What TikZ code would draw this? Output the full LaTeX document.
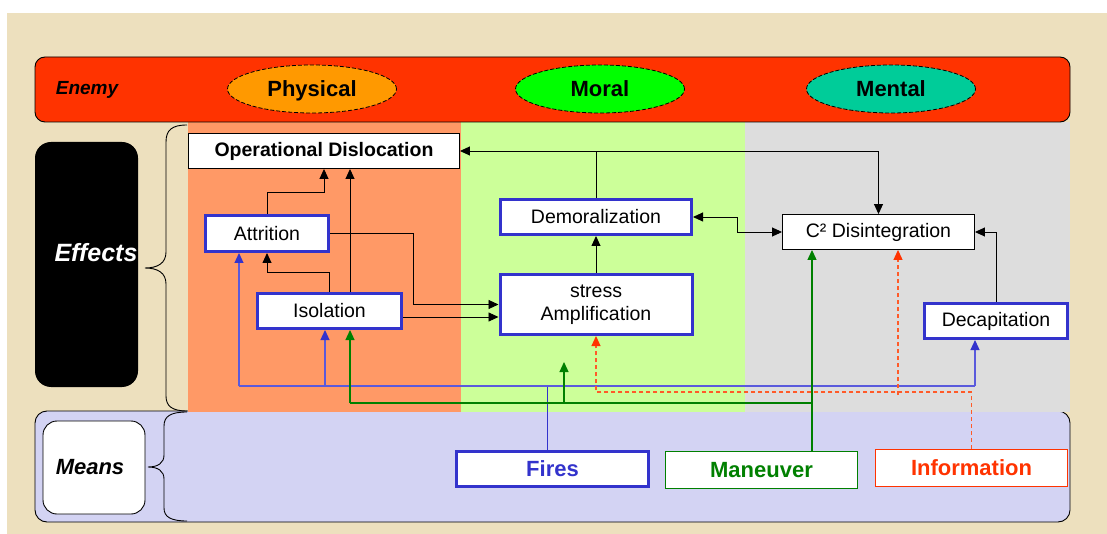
\documentclass[tikz,border=0pt]{standalone}
\usepackage{fontspec}
\setmainfont{Liberation Sans}
\usetikzlibrary{arrows.meta,shapes.geometric,calc}

\definecolor{parch}{RGB}{237,224,190}
\definecolor{enemyred}{RGB}{255,51,0}
\definecolor{physc}{RGB}{255,153,0}
\definecolor{moralc}{RGB}{0,255,0}
\definecolor{mentalc}{RGB}{0,204,153}
\definecolor{physpanel}{RGB}{255,153,102}
\definecolor{moralpanel}{RGB}{204,255,153}
\definecolor{mentalpanel}{RGB}{221,221,221}
\definecolor{meanspanel}{RGB}{211,211,243}
\definecolor{boxblue}{RGB}{51,51,204}
\definecolor{lineblue}{RGB}{90,90,220}
\definecolor{mgreen}{RGB}{0,128,0}
\definecolor{ired}{RGB}{255,51,0}
\definecolor{idash}{RGB}{255,90,40}

\begin{document}
\begin{tikzpicture}[x=1pt,y=-1pt,
  font=\fontsize{19.5}{23}\selectfont,
  tipblack/.style={-{Triangle[length=10pt,width=9pt]}},
  conn/.style={tipblack,line width=0.9pt,black},
  effect/.style={draw=boxblue,line width=3pt,fill=white,inner sep=0pt,align=center},
  plainbox/.style={draw=black,line width=0.9pt,fill=white,inner sep=0pt},
  aspect/.style={ellipse,draw=black,dash pattern=on 4pt off 2pt,line width=0.8pt,
    minimum width=169pt,minimum height=48pt,inner sep=0pt,text height=15pt,text depth=0pt,
    font=\fontsize{22}{24}\selectfont\bfseries},
  meansbox/.style={fill=white,inner sep=0pt,minimum width=192pt,minimum height=37pt,
    font=\fontsize{22}{24}\selectfont\bfseries},
  blueline/.style={draw=lineblue,line width=1.2pt},
  bluearr/.style={blueline,-{Triangle[length=10pt,width=9pt,color=boxblue]}},
  greenline/.style={draw=mgreen,line width=1.2pt},
  greenarr/.style={greenline,-{Triangle[length=10pt,width=9pt,color=mgreen]}},
  reddash/.style={draw=idash,line width=1.1pt,dash pattern=on 4pt off 3pt,
    -{Triangle[length=10pt,width=9pt,color=ired]}},
  bracepath/.style={draw=black,line width=0.9pt}
]
\useasboundingbox (0,0) rectangle (1107,534);

% page and parchment
\fill[white] (0,0) rectangle (1107,534);
\fill[parch] (7,13) rectangle (1107,534);

% means band
\draw[fill=meanspanel,line width=0.9pt,rounded corners=12pt] (35,411) rectangle (1070,522);

% effect panels
\fill[physpanel] (188,122) rectangle (461,412);
\fill[moralpanel] (461,122) rectangle (745,412);
\fill[mentalpanel] (745,122) rectangle (1070,412);

% enemy band
\draw[fill=enemyred,line width=0.9pt,rounded corners=10pt] (35,57) rectangle (1070,122);
\node[font=\fontsize{19}{22}\selectfont\bfseries\itshape] (enemy) at (87,90) {Enemy};
\node[aspect,fill=physc] (phys) at (312,89) {Physical};
\node[aspect,fill=moralc] (moral) at (600,89) {Moral};
\node[aspect,fill=mentalc] (mental) at (891,89) {Mental};

% left labels
\node[fill=black,rounded corners=16pt,minimum width=103pt,minimum height=245pt,inner sep=0pt]
  (effects) at (86.5,264.5) {};
\node[text=white,font=\fontsize{25}{28}\selectfont\bfseries\itshape] (effectslbl) at (96,253) {Effects};
\node[draw=black,line width=0.9pt,fill=white,rounded corners=14pt,minimum width=102pt,
  minimum height=93pt,inner sep=0pt] (means) at (94,467.5) {};
\node[font=\fontsize{22}{25}\selectfont\bfseries\itshape] (meanslbl) at (90,467) {Means};

% braces
\draw[bracepath] (187,125) .. controls (172,125) and (166,130) .. (166,142) -- (166,252)
  .. controls (166,263) and (158,268) .. (145,268)
  .. controls (158,268) and (166,273) .. (166,284) -- (166,396)
  .. controls (166,406) and (172,411) .. (187,411);
\draw[bracepath] (187,412) .. controls (171,412) and (164,416) .. (164,426) -- (164,455)
  .. controls (164,463) and (158,467) .. (148,467)
  .. controls (158,467) and (164,471) .. (164,479) -- (164,508)
  .. controls (164,517) and (171,521) .. (187,521);

% effect nodes
\node[plainbox,minimum width=271pt,minimum height=35pt,font=\fontsize{19.5}{23}\selectfont\bfseries]
  (opdis) at (324,151) {Operational Dislocation};
\node[effect,minimum width=123pt,minimum height=36pt] (attr) at (267,233.5) {Attrition};
\node[effect,minimum width=144pt,minimum height=35pt] (iso) at (329.5,311) {Isolation};
\node[effect,minimum width=191pt,minimum height=35pt] (demor) at (596,217) {Demoralization};
\node[effect,minimum width=192pt,minimum height=60pt] (stress) at (596,304.5) {stress\\Amplification};
\node[plainbox,minimum width=192pt,minimum height=35pt] (c2) at (878.5,232) {C² Disintegration};
\node[effect,minimum width=143pt,minimum height=35pt] (decap) at (996,321) {Decapitation};

% means nodes
\node[meansbox,draw=boxblue,line width=3pt,text=boxblue,minimum width=192pt,minimum height=35pt]
  (fires) at (552.5,469) {Fires};
\node[meansbox,draw=mgreen,line width=1pt,text=mgreen] (maneuver) at (761.5,470) {Maneuver};
\node[meansbox,draw=ired,line width=1.2pt,text=ired] (info) at (971.5,468) {Information};

% effect-to-effect links
\coordinate (a1) at (267,192);
\draw[conn] (attr.north) -- (a1) -| (opdis.south);
\coordinate (i2) at ([xshift=20.5pt]iso.north);
\draw[conn] (i2) -- (i2 |- opdis.south);
\coordinate (a2) at (329.5,272);
\draw[conn] (iso.north) -- (a2) -| (attr.south);
\coordinate (a3) at (413,233.5);
\draw[conn] (attr.east) -- (a3) |- (stress.west);
\coordinate (i3) at ([yshift=-6pt]iso.east);
\draw[conn] (i3) -- (i3 -| stress.west);
\draw[conn] (stress.north) -- (demor.south);
\coordinate (d1) at (596,151);
\draw[conn] (demor.north) -- (d1) -- (opdis.east);
\draw[conn] (d1) -| (c2.north);
\coordinate (d2) at (737,217);
\draw[line width=0.9pt,{Triangle[length=10pt,width=9pt]}-{Triangle[length=10pt,width=9pt]}]
  (demor.east) -- (d2) |- (c2.west);
\draw[conn] (decap.north) |- (c2.east);

% fires links
\coordinate (fb) at ([xshift=-5pt]fires.north);
\coordinate (bj) at (547.5,386);
\coordinate (bl) at (239,386);
\coordinate (bm) at (325,386);
\coordinate (br) at (975,386);
\draw[draw=boxblue,line width=1pt] (fb) -- (bj);
\draw[blueline] (bl) -- (br);
\draw[bluearr] (bl) -- (bl |- attr.south);
\draw[bluearr] (bm) -- (bm |- iso.south);
\draw[bluearr] (br) -- (br |- decap.south);

% maneuver links
\coordinate (gm) at ([xshift=50.5pt]maneuver.north);
\coordinate (gl) at (350,403);
\coordinate (gs) at (564,403);
\coordinate (gtip) at (564,362);
\draw[greenarr] (gm) -- (gm |- c2.south);
\draw[greenline] (gm |- gl) -- (gl);
\draw[greenarr] (gl) -- (gl |- iso.south);
\draw[greenarr] (gs) -- (gtip);

% information links
\coordinate (r1) at (971.5,392);
\coordinate (r2) at (898,395);
\draw[reddash] (info.north) -- (r1) -| (stress.south);
\draw[reddash] (r2) -- (r2 |- c2.south);
\end{tikzpicture}
\end{document}
